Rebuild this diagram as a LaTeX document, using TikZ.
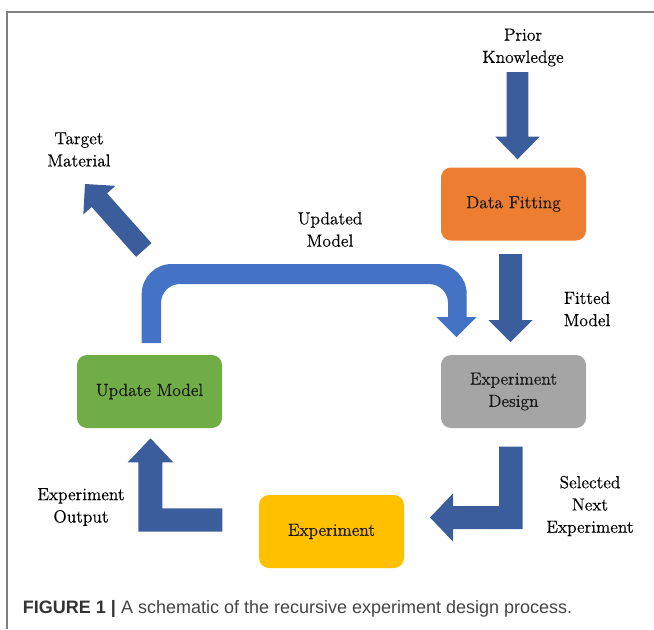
\documentclass[tikz,border=0pt]{standalone}
\usepackage{fontspec}
\newfontfamily\capfont{Liberation Sans}
\newfontfamily\lblfont{Latin Modern Roman}[FakeBold=0.5]
\usetikzlibrary{calc}
\definecolor{darr}{HTML}{3C5D9B}
\definecolor{larr}{HTML}{4472C4}
\definecolor{cOrange}{HTML}{ED7D31}
\definecolor{cGreen}{HTML}{70AD47}
\definecolor{cGray}{HTML}{A5A5A5}
\definecolor{cYellow}{HTML}{FFC000}
\definecolor{frameC}{HTML}{808080}
\definecolor{capC}{HTML}{444444}
\newcommand\blockarr[6]{% start, screen angle, length, shaft w, head w, head l
  \begin{scope}[shift={#1}, rotate=#2]
    \fill[darr] (0,-#4/2) -- (#3-#6,-#4/2) -- (#3-#6,-#5/2) -- (#3,0) -- (#3-#6,#5/2) -- (#3-#6,#4/2) -- (0,#4/2) -- cycle;
  \end{scope}}
\tikzset{
  box/.style={rectangle, rounded corners=7.5pt, minimum width=108.75pt, minimum height=54.75pt,
    inner sep=0pt, align=center, text=black!90, font=\lblfont\fontsize{13.1}{16.7}\selectfont},
  lbl/.style={inner sep=0pt, align=center, text=black, font=\lblfont\fontsize{13.1}{16.7}\selectfont},
}
\begin{document}
\begin{tikzpicture}[x=0.75pt, y=-0.75pt]
\useasboundingbox (0,0) rectangle (654,629);
% frame
\draw[frameC, line width=1.1pt] (7,629) -- (7,12) -- (654,12);
% boxes
\node[box, fill=cOrange] (df) at (513.5,204) {Data Fitting};
\node[box, fill=cGray] (ed) at (513.5,391.5) {Experiment\\Design};
\node[box, fill=cGreen] (um) at (149.5,391.5) {Update Model};
\node[box, fill=cYellow] (ex) at (331.5,531.5) {Experiment};
% labels
\node[lbl] (pk) at (523,47.5) {Prior\\Knowledge};
\node[lbl] (tm) at (79,149.5) {Target\\Material};
\node[lbl] (umt) at (330,229.5) {Updated\\Model};
\node[lbl] (fm) at (587,309) {Fitted\\Model};
\node[lbl] (sne) at (590,506) {Selected\\Next\\Experiment};
\node[lbl] (eo) at (81,507) {Experiment\\Output};
% straight arrows
\coordinate (pkTail) at (517.5,72);
\coordinate (fmTail) at (510.5,254);
\coordinate (tmTail) at (143.8,250);
\blockarr{(pkTail)}{-90}{87.3}{21.6}{44.3}{22.6}
\blockarr{(fmTail)}{-90}{88}{23}{44}{22}
\blockarr{(tmTail)}{131.7}{88.4}{20.6}{43}{21.6}
% updated model curved arrow
\fill[larr] (141.7,343) -- (141.7,294) arc[start angle=180, end angle=270, radius=30]
  -- (436.7,264) arc[start angle=270, end angle=360, radius=30]
  -- (466.7,317) -- (476.7,317) -- (456.5,337) -- (436.3,317) -- (448,317)
  -- (448,303) arc[start angle=0, end angle=-90, radius=19]
  -- (180,284) arc[start angle=-90, end angle=-180, radius=19]
  -- (161,343) -- cycle;
% elbow arrows
\fill[darr] (499,446.7) -- (522.7,446.7) -- (522.7,529) -- (453,529) -- (453,541.5)
  -- (430,517.5) -- (453,493.5) -- (453,506) -- (499,506) -- cycle;
\fill[darr] (222.3,508.3) -- (222.3,531.7) -- (138.3,531.7) -- (138.3,462.3) -- (127.7,462.3)
  -- (150.5,438.3) -- (173.3,462.3) -- (162.3,462.3) -- (162.3,508.3) -- cycle;
% caption
\node[anchor=west, inner sep=0pt, text=capC, font=\capfont\fontsize{13.5}{15}\selectfont] (cap) at (22.7,609)
  {{\bfseries\color{black!80}FIGURE 1 |} A schematic of the recursive experiment design process.};
\end{tikzpicture}
\end{document}
